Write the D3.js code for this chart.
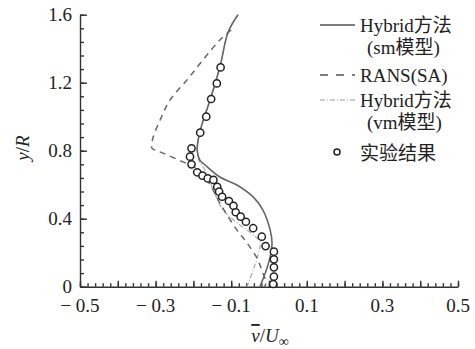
<!DOCTYPE html>
<meta charset="utf-8">
<style>
  body { margin: 0; background: #fff; }
  text { font-family: "Liberation Serif", "Noto Sans CJK SC", serif; fill: #222; }
  .axis path, .axis line { stroke: #333; stroke-width: 1.4px; }
</style>
<svg width="475" height="349"></svg>
<script src="https://d3js.org/d3.v7.min.js"></script>
<script>

var smLine = [[-0.082,1.6],[-0.108,1.498],[-0.130,1.292],[-0.156,1.098],[-0.183,0.910],[-0.190,0.804],
  [-0.183,0.745],[-0.169,0.716],[-0.130,0.645],[-0.085,0.598],[-0.042,0.528],[-0.016,0.451],
  [0.003,0.334],[0.008,0.257],[0.003,0.175],[-0.007,0.098],[-0.024,0.0]];

var ransLine = [[-0.100,1.51],[-0.130,1.451],[-0.175,1.333],[-0.217,1.216],[-0.262,1.098],[-0.288,0.981],
  [-0.307,0.875],[-0.310,0.816],[-0.302,0.804],[-0.280,0.786],[-0.228,0.734],[-0.196,0.704],
  [-0.169,0.645],[-0.148,0.569],[-0.130,0.492],[-0.085,0.334],[-0.058,0.257],[-0.032,0.169],
  [-0.019,0.098],[-0.008,0.022],[-0.012,0.0]];

var vmLine = [[-0.082,1.6],[-0.108,1.5],[-0.130,1.29],[-0.156,1.1],[-0.183,0.91],[-0.190,0.80],
  [-0.185,0.74],[-0.170,0.69],[-0.155,0.63],[-0.151,0.586],[-0.138,0.522],[-0.122,0.451],
  [-0.103,0.41],[-0.077,0.363],[-0.045,0.31],[-0.024,0.263],[-0.029,0.186],[-0.042,0.098],[-0.058,0.0]];

var expPoints = [[-0.128,1.290],[-0.138,1.196],[-0.153,1.104],[-0.166,1.000],[-0.182,0.906],[-0.205,0.814],
  [-0.209,0.765],[-0.205,0.720],[-0.190,0.673],[-0.176,0.653],[-0.162,0.637],[-0.147,0.628],
  [-0.137,0.588],[-0.132,0.559],[-0.124,0.529],[-0.106,0.504],[-0.094,0.476],[-0.088,0.438],
  [-0.075,0.412],[-0.061,0.382],[-0.042,0.344],[-0.019,0.294],[-0.009,0.239],[0.013,0.206],
  [0.013,0.161],[0.013,0.114],[0.013,0.059],[0.011,0.016]];

var xLabels = [-0.5,-0.3,-0.1,0.1,0.3,0.5];
var yLabels = [0,0.4,0.8,1.2,1.6];

var svg = d3.select("svg");
var x = d3.scaleLinear().domain([-0.5,0.5]).range([80,458]);
var y = d3.scaleLinear().domain([0,1.6]).range([286.7,14.7]);

// minor ticks
var xMinor = d3.range(0,51).map(function(i){ return -0.5 + i*0.02; });
var yMinor = d3.range(0,21).map(function(i){ return i*0.08; });
var xMajor = d3.range(0,11).map(function(i){ return -0.5 + i*0.1; });

svg.append("g").attr("class","axis")
  .attr("transform","translate(0,"+y(0)+")")
  .call(d3.axisBottom(x).tickValues(xMinor).tickSizeInner(-3.5).tickSizeOuter(0).tickFormat(""));
svg.append("g").attr("class","axis")
  .attr("transform","translate(0,"+y(0)+")")
  .call(d3.axisBottom(x).tickValues(xMajor).tickSizeInner(-6).tickSizeOuter(0).tickFormat(""))
  .select(".domain").remove();
svg.append("g").attr("class","axis")
  .attr("transform","translate("+x(-0.5)+",0)")
  .call(d3.axisLeft(y).tickValues(yMinor).tickSizeInner(-4).tickSizeOuter(0).tickFormat(""));
svg.append("g").attr("class","axis")
  .attr("transform","translate("+x(-0.5)+",0)")
  .call(d3.axisLeft(y).tickValues(yLabels).tickSizeInner(-7).tickSizeOuter(0).tickFormat(""))
  .select(".domain").remove();

svg.selectAll(".xl").data(xLabels).enter().append("text")
  .attr("x", function(d){ return x(d); }).attr("y", 312)
  .attr("text-anchor","middle").style("font-size","19px")
  .text(function(d){ return d < 0 ? "\u2212 " + Math.abs(d).toFixed(1) : d.toFixed(1); });

svg.selectAll(".yl").data(yLabels).enter().append("text")
  .attr("x", 72).attr("y", function(d){ return y(d) + 6; })
  .attr("text-anchor","end").style("font-size","19px")
  .text(function(d){ return d === 0 ? "0" : d.toFixed(1); });

// axis titles
var xt = svg.append("text").attr("x",270).attr("y",342).attr("text-anchor","middle").style("font-size","19px");
xt.append("tspan").style("font-style","italic").style("text-decoration","overline").text("v");
xt.append("tspan").text("/");
xt.append("tspan").style("font-style","italic").text("U");
xt.append("tspan").attr("dy",4).style("font-size","14px").text("\u221e");

var yt = svg.append("text").attr("transform","translate(29,148) rotate(-90)")
  .attr("text-anchor","middle").style("font-size","19px");
yt.append("tspan").style("font-style","italic").text("y");
yt.append("tspan").text("/");
yt.append("tspan").style("font-style","italic").text("R");

var line = d3.line().x(function(d){ return x(d[0]); }).y(function(d){ return y(d[1]); }).curve(d3.curveCatmullRom);

svg.append("path").datum(vmLine).attr("d", line)
  .attr("fill","none").attr("stroke","#aaa").attr("stroke-width",1.2).attr("stroke-dasharray","5,2,1,2");
svg.append("path").datum(ransLine).attr("d", line)
  .attr("fill","none").attr("stroke","#666").attr("stroke-width",1.5).attr("stroke-dasharray","6,5");
svg.append("path").datum(smLine).attr("d", line)
  .attr("fill","none").attr("stroke","#666").attr("stroke-width",1.6);

svg.selectAll(".exp").data(expPoints).enter().append("circle")
  .attr("cx", function(d){ return x(d[0]); }).attr("cy", function(d){ return y(d[1]); })
  .attr("r", 3.6).attr("fill","#fff").attr("stroke","#222").attr("stroke-width",1.5);

// legend
var lg = svg.append("g").style("font-size","19px");
lg.append("line").attr("x1",320).attr("x2",355).attr("y1",25).attr("y2",25).attr("stroke","#555").attr("stroke-width",1.5);
lg.append("text").attr("x",360).attr("y",32).text("Hybrid方法");
lg.append("text").attr("x",367).attr("y",54).text("(sm模型)");
lg.append("line").attr("x1",320).attr("x2",355).attr("y1",75).attr("y2",75).attr("stroke","#555").attr("stroke-width",1.5).attr("stroke-dasharray","8,8");
lg.append("text").attr("x",360).attr("y",82).text("RANS(SA)");
lg.append("line").attr("x1",320).attr("x2",355).attr("y1",100).attr("y2",100).attr("stroke","#999").attr("stroke-width",1.2).attr("stroke-dasharray","5,2,1,2");
lg.append("text").attr("x",360).attr("y",107).text("Hybrid方法");
lg.append("text").attr("x",367).attr("y",129).text("(vm模型)");
lg.append("circle").attr("cx",337).attr("cy",152).attr("r",3).attr("fill","#fff").attr("stroke","#222").attr("stroke-width",1.5);
lg.append("text").attr("x",360).attr("y",160).text("实验结果");

</script>
